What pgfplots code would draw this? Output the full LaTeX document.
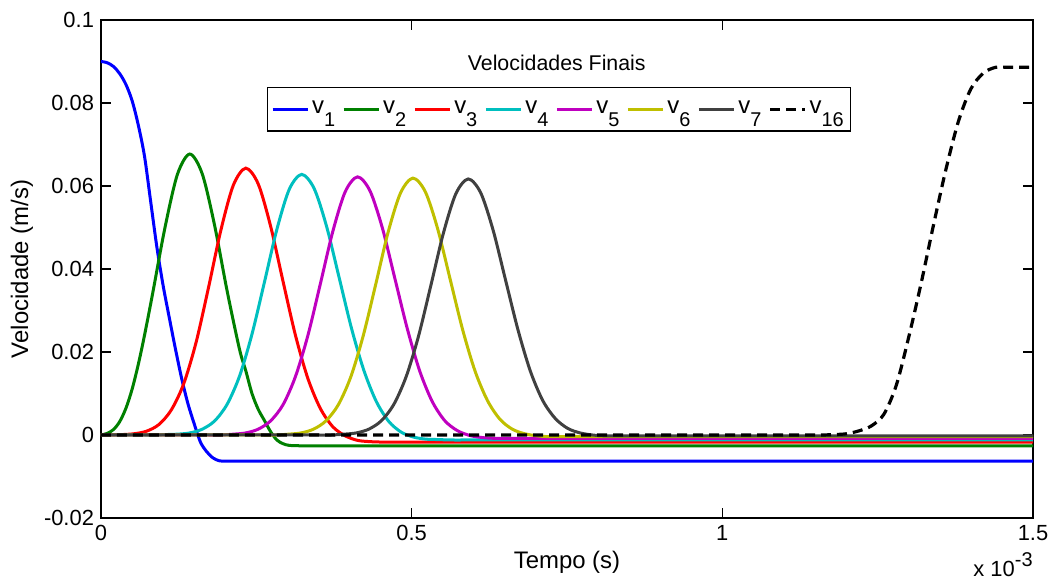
\documentclass[border=0pt]{standalone}
\usepackage{fontspec}
\setmainfont{Liberation Sans}
\usepackage{pgfplots}
\pgfplotsset{compat=1.18}
\definecolor{mgreen}{rgb}{0,0.5,0}
\definecolor{mcyan}{rgb}{0,0.75,0.75}
\definecolor{mmag}{rgb}{0.75,0,0.75}
\definecolor{myel}{rgb}{0.75,0.75,0}
\definecolor{mgray}{rgb}{0.25,0.25,0.25}
\newcommand\vs[1]{v\raisebox{-6.5bp}{\fontsize{10}{11}\selectfont #1}}
\begin{document}
\begin{tikzpicture}
\begin{axis}[
  scale only axis, width=466bp, height=249bp,
  xmin=0, xmax=1.5, ymin=-0.02, ymax=0.1,
  xtick={0,0.5,1,1.5}, xticklabels={0,0.5,1,1.5},
  ytick={-0.02,0,0.02,0.04,0.06,0.08,0.1},
  yticklabels={-0.02,0,0.02,0.04,0.06,0.08,0.1},
  scaled ticks=false,
  tick align=inside, tick pos=both,
  major tick length=5bp,
  tick style={black, line width=0.6bp},
  axis line style={black, line width=0.6bp},
  every tick label/.append style={font=\fontsize{11}{13}\selectfont},
  label style={font=\fontsize{12}{14}\selectfont},
  xlabel={Tempo (s)}, ylabel={Velocidade (m/s)},
  xlabel style={at={(rel axis cs:0.5,-0.0884)}, anchor=center},
  ylabel style={at={(rel axis cs:-0.0848,0.5)}, anchor=center},
  legend image code/.code={\draw[#1] (0bp,0bp) -- (17.5bp,0bp);},
  legend style={at={(rel axis cs:0.4914,0.866)}, anchor=north, legend columns=-1,
    draw=black, line width=0.6bp, font=\fontsize{12}{14}\selectfont,
    inner xsep=2bp, inner ysep=5bp,
    nodes={inner xsep=1.5bp},
    /tikz/every even column/.append style={column sep=2bp}},
  clip=true,
]
% v1
\addplot[color=blue, line width=1.5bp, smooth] coordinates {
(0,0.0900) (0.01,0.0897) (0.02,0.0888) (0.03,0.0871) (0.04,0.0845) (0.05,0.0806)
(0.06,0.0747) (0.07,0.0672) (0.08,0.0562) (0.09,0.0452) (0.10,0.0360) (0.11,0.0282)
(0.12,0.0206) (0.13,0.0135) (0.14,0.0075) (0.15,0.0027) (0.16,-0.0017) (0.17,-0.0040)
(0.18,-0.0055) (0.19,-0.0062) (0.20,-0.0063) (0.22,-0.0063) (0.26,-0.0063) (0.34,-0.0063)
(0.5,-0.0063) (0.8,-0.0063) (1.5,-0.0063)};
% v2
\addplot[color=mgreen, line width=1.5bp, smooth] coordinates {
(0,0) (0.01,0.0004) (0.02,0.0013) (0.03,0.0032) (0.04,0.0064) (0.05,0.0110)
(0.06,0.0170) (0.07,0.0240) (0.083,0.0340) (0.103,0.0500) (0.123,0.0628) (0.143,0.0677)
(0.163,0.0629) (0.183,0.0504) (0.203,0.0347) (0.223,0.0206) (0.233,0.0155)
(0.243,0.0100) (0.253,0.0062) (0.263,0.0035) (0.273,0.0008) (0.283,-0.0012)
(0.293,-0.0021) (0.303,-0.0025) (0.323,-0.0026) (0.36,-0.0026) (0.44,-0.0026)
(0.6,-0.0026) (0.9,-0.0026) (1.5,-0.0026)};
% v3
\addplot[color=red, line width=1.5bp, smooth] coordinates {
(0,0) (0.033,0.0001) (0.053,0.0003) (0.073,0.0009) (0.093,0.0025) (0.113,0.0060)
(0.133,0.0123) (0.153,0.0223) (0.173,0.0355) (0.193,0.0494) (0.213,0.0602) (0.233,0.0643)
(0.253,0.0605) (0.273,0.0503) (0.293,0.0370) (0.313,0.0240) (0.333,0.0136) (0.353,0.0064)
(0.373,0.0020) (0.393,-0.0002) (0.413,-0.0013) (0.433,-0.0016) (0.453,-0.0017)
(0.49,-0.0017) (0.57,-0.0017) (0.73,-0.0017) (1.0,-0.0017) (1.5,-0.0017)};
% v4
\addplot[color=mcyan, line width=1.5bp, smooth] coordinates {
(0,0) (0.04,0) (0.07,0) (0.088,0) (0.103,0.0001) (0.123,0.0002) (0.143,0.0005) (0.163,0.0014) (0.183,0.0034)
(0.203,0.0074) (0.223,0.0142) (0.243,0.0243) (0.263,0.0368) (0.283,0.0495) (0.303,0.0592)
(0.323,0.0628) (0.343,0.0594) (0.363,0.0503) (0.383,0.0381) (0.403,0.0258) (0.423,0.0156)
(0.443,0.0081) (0.463,0.0033) (0.483,0.0007) (0.503,-0.0005) (0.523,-0.0010) (0.543,-0.0011)
(0.563,-0.0012) (0.60,-0.0012) (0.68,-0.0012) (0.84,-0.0012) (1.1,-0.0012) (1.5,-0.0012)};
% v5
\addplot[color=mmag, line width=1.5bp, smooth] coordinates {
(0,0) (0.06,0) (0.12,0) (0.155,0) (0.173,0) (0.193,0) (0.213,0.0002) (0.233,0.0005) (0.253,0.0014) (0.273,0.0034) (0.293,0.0073)
(0.313,0.0141) (0.333,0.0240) (0.353,0.0364) (0.373,0.0490) (0.393,0.0586) (0.413,0.0622)
(0.433,0.0588) (0.453,0.0498) (0.473,0.0377) (0.493,0.0256) (0.513,0.0154) (0.533,0.0081)
(0.553,0.0035) (0.573,0.0011) (0.593,-0.0001) (0.613,-0.0006) (0.633,-0.0008)
(0.67,-0.0008) (0.75,-0.0008) (0.9,-0.0008) (1.15,-0.0008) (1.5,-0.0008)};
% v6
\addplot[color=myel, line width=1.5bp, smooth] coordinates {
(0,0) (0.1,0) (0.2,0) (0.245,0) (0.262,0) (0.282,0) (0.302,0.0002) (0.322,0.0005) (0.342,0.0014) (0.362,0.0034) (0.382,0.0073)
(0.402,0.0140) (0.422,0.0239) (0.442,0.0362) (0.462,0.0488) (0.482,0.0583) (0.502,0.0619)
(0.522,0.0586) (0.542,0.0496) (0.562,0.0375) (0.582,0.0254) (0.602,0.0154) (0.622,0.0083)
(0.642,0.0038) (0.662,0.0014) (0.682,0.0003) (0.702,-0.0002) (0.722,-0.0004)
(0.76,-0.0004) (0.84,-0.0004) (1.0,-0.0004) (1.25,-0.0004) (1.5,-0.0004)};
% v7
\addplot[color=mgray, line width=1.5bp, smooth] coordinates {
(0,0) (0.12,0) (0.24,0) (0.31,0) (0.335,0) (0.351,0) (0.371,0) (0.391,0.0002) (0.411,0.0005) (0.431,0.0014) (0.451,0.0034) (0.471,0.0073)
(0.491,0.0140) (0.511,0.0238) (0.531,0.0361) (0.551,0.0486) (0.571,0.0581) (0.591,0.0617)
(0.611,0.0584) (0.631,0.0494) (0.651,0.0374) (0.671,0.0254) (0.691,0.0154) (0.711,0.0083)
(0.731,0.0040) (0.751,0.0016) (0.771,0.0005) (0.791,0.0000) (0.811,-0.0002)
(0.85,-0.0002) (0.93,-0.0002) (1.1,-0.0002) (1.3,-0.0002) (1.5,-0.0002)};
% v16
\addplot[color=black, line width=1.6bp, dash pattern=on 5bp off 3bp, smooth] coordinates {
(0,0) (0.4,0) (0.8,0) (1.0,0) (1.1,0) (1.14,0) (1.16,0) (1.18,0.0001) (1.20,0.0003) (1.22,0.0010) (1.24,0.0022) (1.26,0.0050) (1.28,0.0120)
(1.30,0.0236) (1.32,0.0366) (1.34,0.0507) (1.36,0.0641) (1.38,0.0756) (1.40,0.0834)
(1.42,0.0872) (1.44,0.0886) (1.46,0.0886) (1.5,0.0886)};
\legend{\vs{1},\vs{2},\vs{3},\vs{4},\vs{5},\vs{6},\vs{7},\vs{16}}
\node[font=\fontsize{10.7}{12}\selectfont] at (rel axis cs:0.489,0.913) {Velocidades Finais};
\coordinate (ll) at (rel axis cs:0,0);
\coordinate (ur) at (rel axis cs:1,1);
\end{axis}
\node[anchor=base east, inner sep=0pt, font=\fontsize{11}{13}\selectfont] at ([yshift=-29bp]ll -| ur) {x 10\raisebox{0.45em}{\fontsize{10}{12}\selectfont -3}};
\pgfresetboundingbox
\path ([shift={(-50.5bp,-33bp)}]ll) rectangle ([shift={(9bp,10bp)}]ur);
\end{tikzpicture}
\end{document}
